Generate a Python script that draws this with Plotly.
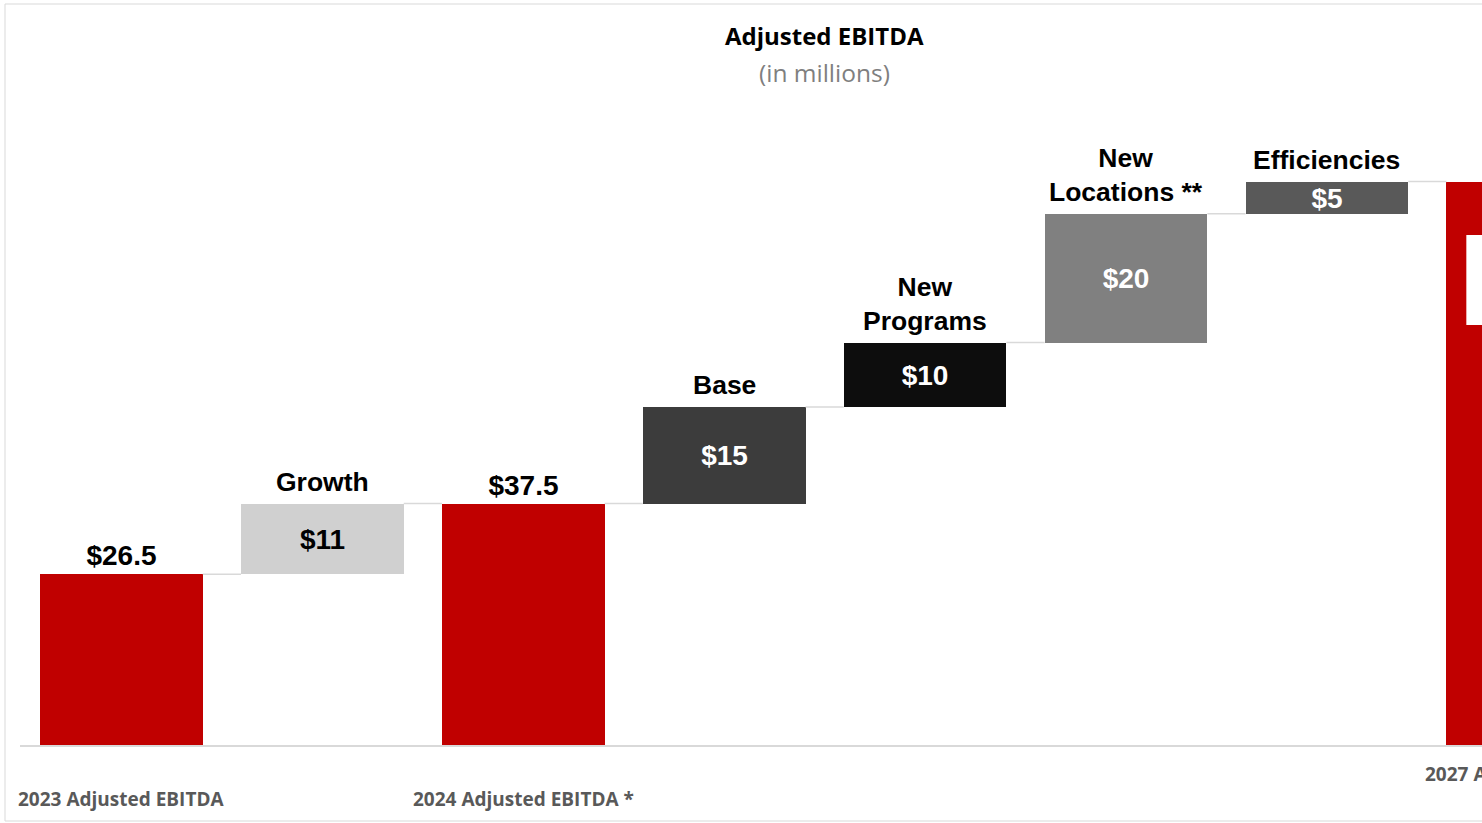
import plotly.graph_objects as go

# Adjusted EBITDA bridge, in $ millions
categories = [
    "2023 Adjusted EBITDA", "Growth", "2024 Adjusted EBITDA *", "Base",
    "New Programs", "New Locations **", "Efficiencies", "2027 Adjusted EBITDA",
]
step_names = ["", "Growth", "", "Base", "New<br>Programs", "New<br>Locations **", "Efficiencies", ""]
kinds = ["total", "step", "total", "step", "step", "step", "step", "total"]
values = [26.5, 11, 37.5, 15, 10, 20, 5, 87.5]
bar_colors = ["#c00000", "#d0d0d0", "#c00000", "#3c3c3c", "#0d0d0d", "#808080", "#595959", "#c00000"]
value_font_colors = ["#000000", "#000000", "#000000", "#ffffff", "#ffffff", "#ffffff", "#ffffff", "#c00000"]

# bases: totals stand on zero, steps float on the running total
bases, tops = [], []
running = 0.0
for k, v in zip(kinds, values):
    if k == "total":
        bases.append(0.0)
        running = v
    else:
        bases.append(running)
        running += v
    tops.append(bases[-1] + v)

labels = [f"${v:g}" for v in values]
positions = ["outside", "inside", "outside", "inside", "inside", "inside", "inside", "none"]
xs = list(range(len(categories)))
BAR_W = 0.81
X_RANGE = [-0.505, 6.772]
Y_RANGE = [0, 100]
LABEL_FONT = "Liberation Sans, Arial, sans-serif"

fig = go.Figure()

# thin connectors between consecutive bar tops
cx, cy = [], []
for i in range(len(xs) - 1):
    cx += [xs[i] + BAR_W / 2, xs[i + 1] - BAR_W / 2, None]
    cy += [tops[i], tops[i], None]
fig.add_trace(go.Scatter(x=cx, y=cy, mode="lines", line=dict(color="#d9d9d9", width=1.5),
                         hoverinfo="skip", showlegend=False))

fig.add_trace(go.Bar(
    x=xs, y=values, base=bases, width=BAR_W,
    marker=dict(color=bar_colors, line=dict(width=0)),
    text=labels, textposition=positions, insidetextanchor="middle",
    textangle=0, constraintext="none", cliponaxis=False,
    textfont=dict(family=LABEL_FONT, size=28, weight="bold", color=value_font_colors),
    outsidetextfont=dict(family=LABEL_FONT, size=28, weight="bold", color="#000000"),
    hoverinfo="skip", showlegend=False,
))

annotations = []
# step names above the floating bars
for i, name in enumerate(step_names):
    if name:
        annotations.append(dict(
            x=xs[i], y=tops[i], xref="x", yref="y", text=f"<b>{name}</b>",
            showarrow=False, xanchor="center", yanchor="bottom", yshift=5,
            font=dict(family=LABEL_FONT, size=26.5, color="#000000"),
        ))

# category labels below the total bars
span = X_RANGE[1] - X_RANGE[0]
bottom_labels = [(0, -54), (2, -54), (7, -29)]
for idx, shift in bottom_labels:
    annotations.append(dict(
        x=(xs[idx] - X_RANGE[0]) / span, xref="paper", y=0, yref="y",
        text=f"<b>{categories[idx]}</b>", showarrow=False,
        xanchor="center", yanchor="middle", yshift=shift,
        font=dict(family="Open Sans, sans-serif", size=19, color="#595959"),
    ))

# title and subtitle
mid = (3.5 - X_RANGE[0]) / span
annotations.append(dict(x=mid, xref="paper", y=1, yref="paper", xanchor="center",
                        text="<b>Adjusted EBITDA</b>", showarrow=False, yanchor="middle", yshift=101 - 35,
                        font=dict(family="Open Sans, sans-serif", size=24, color="#000000")))
annotations.append(dict(x=mid, xref="paper", y=1, yref="paper", xanchor="center",
                        text="(in millions)", showarrow=False, yanchor="middle", yshift=101 - 72,
                        font=dict(family="Open Sans, sans-serif", size=24.5, color="#7f7f7f")))

shapes = [
    # label box on the 2027 total bar
    dict(type="rect", xref="x", yref="y", x0=xs[7] - 0.306, x1=xs[7] + 0.306, y0=65.2, y1=79.2,
         fillcolor="#ffffff", line=dict(width=0)),
    # outer frame
    dict(type="rect", xref="paper", yref="paper", x0=-15 / 1462, x1=1.05, y0=-76 / 644, y1=741 / 644,
         line=dict(color="#d9d9d9", width=1), fillcolor="rgba(0,0,0,0)", layer="below"),
]

fig.update_layout(
    width=1482, height=823,
    margin=dict(l=20, r=0, t=101, b=78),
    paper_bgcolor="#ffffff", plot_bgcolor="#ffffff",
    bargap=0, showlegend=False,
    annotations=annotations, shapes=shapes,
    xaxis=dict(range=X_RANGE, showgrid=False, zeroline=False, showticklabels=False,
               showline=True, linecolor="#d9d9d9", linewidth=1.5, ticks="", fixedrange=True),
    yaxis=dict(range=Y_RANGE, showgrid=False, zeroline=False, showticklabels=False,
               showline=False, ticks="", fixedrange=True),
)

fig.write_html("out.html")
